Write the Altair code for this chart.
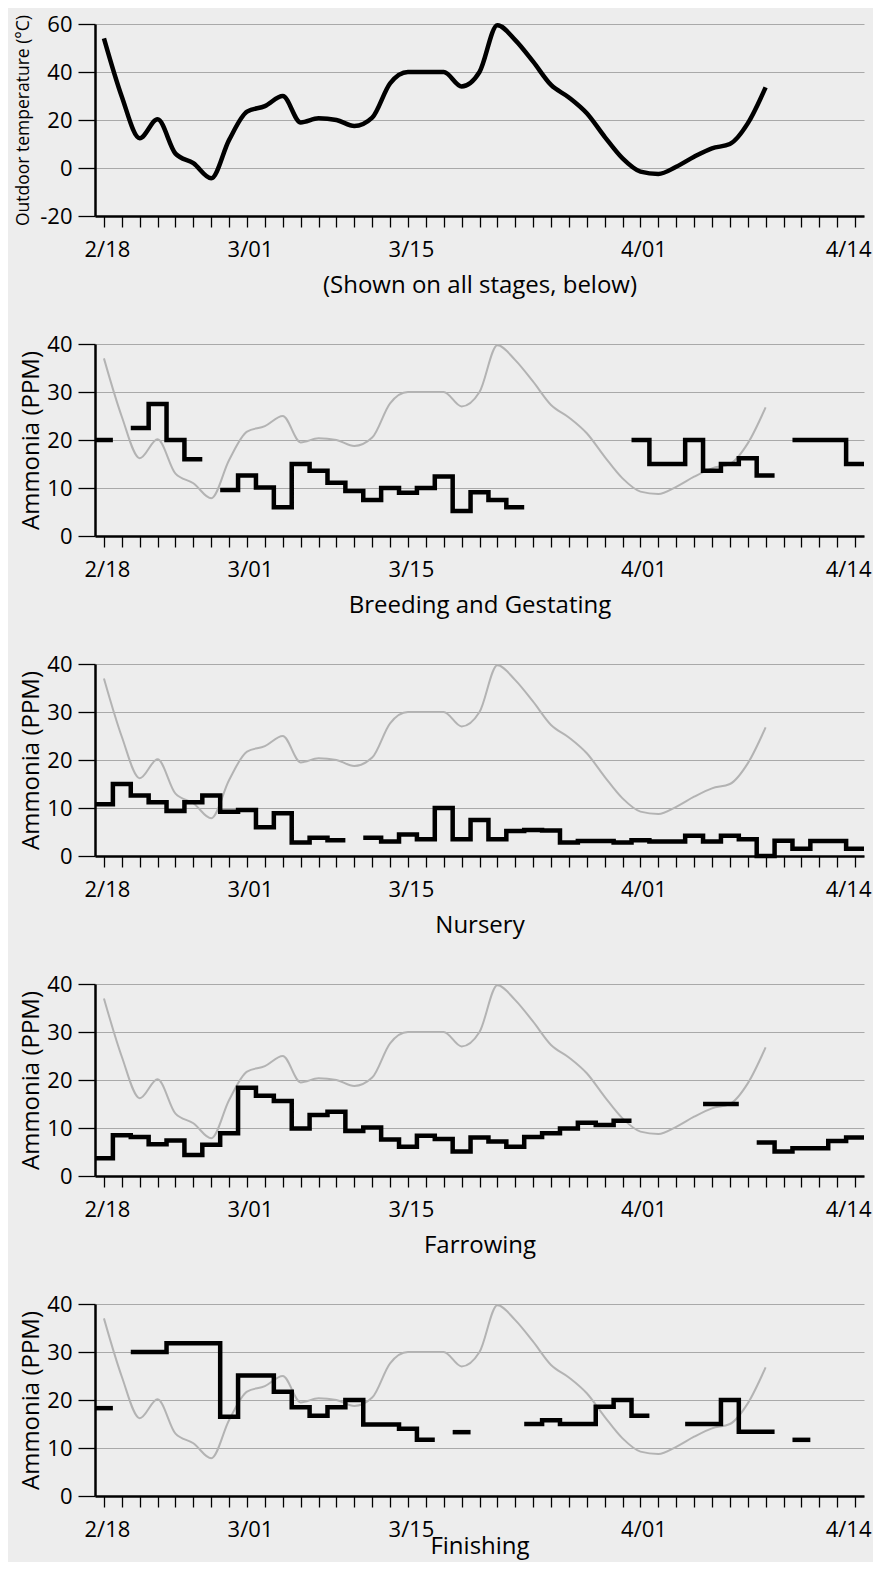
import altair as alt
import pandas as pd

FONT = "Open Sans"
BG = "#ededed"
N = None

# x positions: sample index (one tick per sample)
sample_index = list(range(43))
label_index = [0, 8, 17, 30, 42]
label_text = ["2/18", "3/01", "3/15", "4/01", "4/14"]

# Outdoor temperature (°C) at samples 0..37
temperature = [54, 29.7, 12.4, 20.3, 6, 2, -4.3, 11.7, 23.5, 25.8, 30, 19, 20.7, 20,
               17.5, 21, 35.3, 40, 40, 40, 34, 40, 59.5, 53.3, 44.3, 34.6, 29.4, 22.8,
               13, 4, -1.5, -2.5, 0.5, 4.7, 8.2, 10, 18.6, 33.6]

# Ammonia (PPM) per stage, one value per sample (None = no reading)
breeding = [20, N, 22.5, 27.5, 20, 16, N, 9.6, 12.6, 10.1, 6.0, 15, 13.6, 11.1, 9.4, 7.5,
            10, 9.0, 10, 12.4, 5.2, 9.1, 7.5, 6.0, N, N, N, N, N, N, 20, 15, 15, 20, 13.6,
            15, 16.2, 12.6, N, 20, 20, 20, 15]
nursery = [10.8, 15, 12.6, 11.2, 9.4, 11.2, 12.6, 9.2, 9.6, 6.0, 8.9, 2.8, 3.8, 3.3, N,
           3.8, 3.0, 4.5, 3.5, 10, 3.5, 7.5, 3.5, 5.2, 5.4, 5.3, 2.8, 3.1, 3.1, 2.8, 3.3,
           3.0, 3.0, 4.2, 3.0, 4.2, 3.5, 0.0, 3.2, 1.5, 3.1, 3.1, 1.5]
farrowing = [3.7, 8.5, 8.1, 6.6, 7.4, 4.4, 6.5, 8.9, 18.4, 16.7, 15.6, 9.9, 12.7, 13.4, 9.4,
             10.1, 7.6, 6.1, 8.4, 7.7, 5.1, 8.0, 7.2, 6.1, 8.1, 8.9, 9.9, 11.1, 10.6, 11.5,
             N, N, N, N, 15, 15, N, 7.0, 5.1, 5.8, 5.8, 7.3, 8.0]
finishing = [18.3, N, 30, 30, 31.8, 31.8, 31.8, 16.5, 25.1, 25.1, 21.7, 18.5, 16.7, 18.5, 20,
             14.9, 14.9, 14.0, 11.7, N, 13.3, N, N, N, 15, 15.8, 15, 15, 18.6, 20, 16.7, N,
             N, 15, 15, 20, 13.4, 13.4, N, 11.7, N, N, N]

stages = [("Breeding and Gestating", breeding), ("Nursery", nursery),
          ("Farrowing", farrowing), ("Finishing", finishing)]

temp_df = pd.DataFrame({"i": sample_index[:len(temperature)], "t": temperature})


def step_frame(values):
    """Each reading covers its sample slot (index-0.5 .. index+0.5); runs split on gaps."""
    rows, seg, prev = [], 0, None
    for i, v in enumerate(values):
        if v is None:
            if prev is not None:
                rows.append({"x": i - 0.5, "y": prev, "seg": seg})
                seg += 1
            prev = None
            continue
        rows.append({"x": i - 0.5, "y": v, "seg": seg})
        prev = v
    if prev is not None:
        rows.append({"x": len(values) - 0.5, "y": prev, "seg": seg})
    return pd.DataFrame(rows)


label_expr = " : ".join(
    f"datum.value == {p} ? '{t}'" for p, t in zip(label_index, label_text)) + " : ''"

x_scale = alt.Scale(domain=[-0.5, 42.5], nice=False, zero=False)
last_label = label_index[-1]


def x_axis(title, title_y=76):
    return alt.Axis(values=sample_index, labelExpr=label_expr, title=title,
                    grid=False, tickSize=11, tickWidth=1.3, tickColor="black",
                    domainColor="black", domainWidth=2.5,
                    labelFont=FONT, labelFontSize=22, labelColor="black",
                    labelBaseline="alphabetic", labelPadding=29,
                    labelOffset={"condition": {"test": f"datum.value == {last_label}",
                                               "value": -7}, "value": 3},
                    labelOverlap=False, labelFlush=False, labelBound=False,
                    titleFont=FONT, titleFontSize=24, titleFontWeight="normal",
                    titleColor="black", titleBaseline="alphabetic", titleY=title_y)


def y_axis(title, values, title_size, title_x):
    return alt.Axis(values=values, title=title, orient="left", labelExpr="'' + datum.value",
                    grid=True, gridColor="#a9a9a9", gridWidth=1.2,
                    tickSize=17, tickWidth=1.3, tickColor="black",
                    domainColor="black", domainWidth=2.5,
                    labelFont=FONT, labelFontSize=22, labelColor="black", labelPadding=6,
                    titleFont=FONT, titleFontSize=title_size, titleFontWeight="normal",
                    titleColor="black", titleBaseline="alphabetic", titleX=title_x)


W, H = 769, 192

top = alt.Chart(temp_df).mark_line(
    interpolate="monotone", color="black", strokeWidth=4.5
).encode(
    x=alt.X("i:Q", scale=x_scale, axis=x_axis("(Shown on all stages, below)")),
    y=alt.Y("t:Q", scale=alt.Scale(domain=[-20, 60], nice=False),
            axis=y_axis("Outdoor temperature (°C)", [-20, 0, 20, 40, 60], 17.5, -67)),
).properties(width=W, height=H)

panels = [top]
for k, (name, vals) in enumerate(stages):
    ty = 57 if k == len(stages) - 1 else 76
    ghost = alt.Chart(temp_df).mark_line(
        interpolate="monotone", color="#b3b3b3", strokeWidth=2
    ).encode(
        x=alt.X("i:Q", scale=x_scale, axis=x_axis(name, ty)),
        y=alt.Y("t:Q", scale=alt.Scale(domain=[-20, 60], nice=False), axis=None),
    )
    steps = alt.Chart(step_frame(vals)).mark_line(
        interpolate="step-after", color="black", strokeWidth=4.5,
        strokeJoin="miter", strokeCap="butt"
    ).encode(
        x=alt.X("x:Q", scale=x_scale, axis=x_axis(name, ty)),
        y=alt.Y("y:Q", scale=alt.Scale(domain=[0, 40], nice=False),
                axis=y_axis("Ammonia (PPM)", [0, 10, 20, 30, 40], 24, -57)),
        detail="seg:N",
    )
    panels.append(alt.layer(ghost, steps).resolve_scale(y="independent")
                  .properties(width=W, height=H))

chart = alt.vconcat(*panels, spacing=128, bounds="flush").properties(
    padding={"left": 5, "top": 5, "right": 0, "bottom": 4},
).configure(background=BG, font=FONT).configure_view(stroke=None)

chart.save("out.html", embed_options={"renderer": "svg", "actions": False})
